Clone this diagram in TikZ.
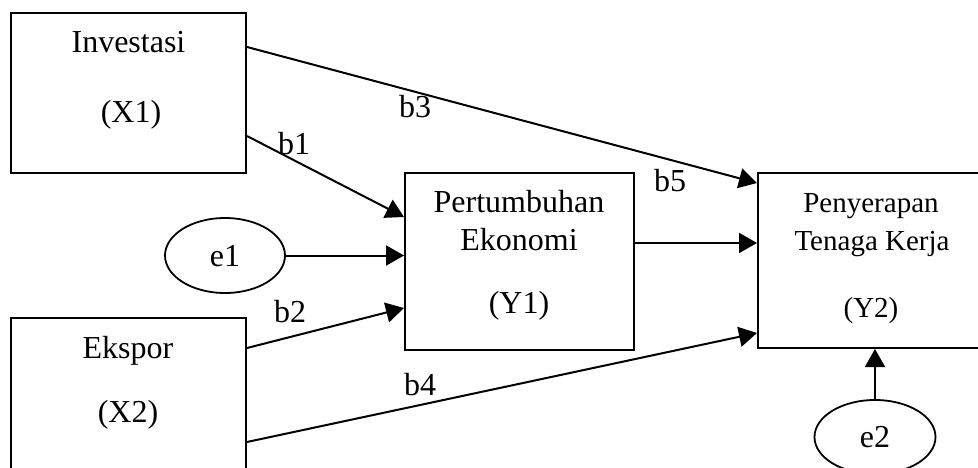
\documentclass[tikz,border=0pt]{standalone}
\usepackage{fontspec}
\setmainfont{Liberation Serif}
\usetikzlibrary{arrows.meta,shapes.geometric,calc}
\begin{document}
\begin{tikzpicture}[x=1pt,y=-1pt,
  box/.style={draw,line width=2pt,minimum width=#1,inner sep=0pt},
  oval/.style={draw,ellipse,line width=1.8pt,minimum width=120pt,minimum height=75pt,inner sep=0pt},
  txt/.style={anchor=base,inner sep=0pt,font=\fontsize{32}{38}\selectfont},
  stxt/.style={anchor=base,inner sep=0pt,font=\fontsize{29}{34}\selectfont},
  conn/.style={line width=2pt,-{Triangle[length=18pt,width=20pt]}},
  plain/.style={line width=2pt}
]
\useasboundingbox (0,0) rectangle (978,468);
\clip (0,0) rectangle (978,468);
\node[box=235pt,minimum height=160pt] (X1) at (128.5,93) {};
\node[box=235pt,minimum height=162pt] (X2) at (128.5,399) {};
\node[box=229pt,minimum height=177pt] (Y1) at (519.5,261.5) {};
\node[box=242pt,minimum height=175pt] (Y2) at (879,260.5) {};
\node[oval] (e1) at (225,255.5) {};
\node[oval,minimum width=121pt,minimum height=74pt] (e2) at (875,437) {};
% texts
\node[txt] (t1) at (128.5,53) {Investasi};
\node[txt] (t2) at (131,123) {(X1)};
\node[txt] (t3) at (128,358) {Ekspor};
\node[txt] (t4) at (128,422) {(X2)};
\node[txt] (t5) at (519,213) {Pertumbuhan};
\node[txt] (t6) at (519,250) {Ekonomi};
\node[txt] (t7) at (519,313) {(Y1)};
\node[stxt] (t8) at (871,212) {Penyerapan};
\node[stxt] (t9) at (872,250) {Tenaga Kerja};
\node[stxt] (t10) at (871,317) {(Y2)};
\node[txt] (te1) at (225,266) {e1};
\node[txt] (te2) at (875,447) {e2};
% path labels
\node[txt] (b1) at (294,155) {b1};
\node[txt] (b2) at (290,322) {b2};
\node[txt] (b3) at (415,118) {b3};
\node[txt] (b4) at (420,395) {b4};
\node[txt] (b5) at (670,192) {b5};
% connectors
\draw[conn] ([yshift=46pt]X1.east) -- ([yshift=77.5pt]Y2.west);
\draw[conn] ([yshift=-43pt]X1.east) -- ([yshift=44.5pt]Y1.west);
\draw[conn] (e1.east) -- (e1.east -| Y1.west);
\draw[conn] ([yshift=51pt]X2.east) -- ([yshift=-46.5pt]Y1.west);
\draw[conn] ([yshift=-43pt]X2.east) -- ([yshift=-72.5pt]Y2.west);
\draw[conn] ([yshift=18.5pt]Y1.east) -- ([yshift=18.5pt]Y1.east -| Y2.west);
\draw[conn] (e2.north) -- (e2.north |- Y2.south);
\end{tikzpicture}
\end{document}
